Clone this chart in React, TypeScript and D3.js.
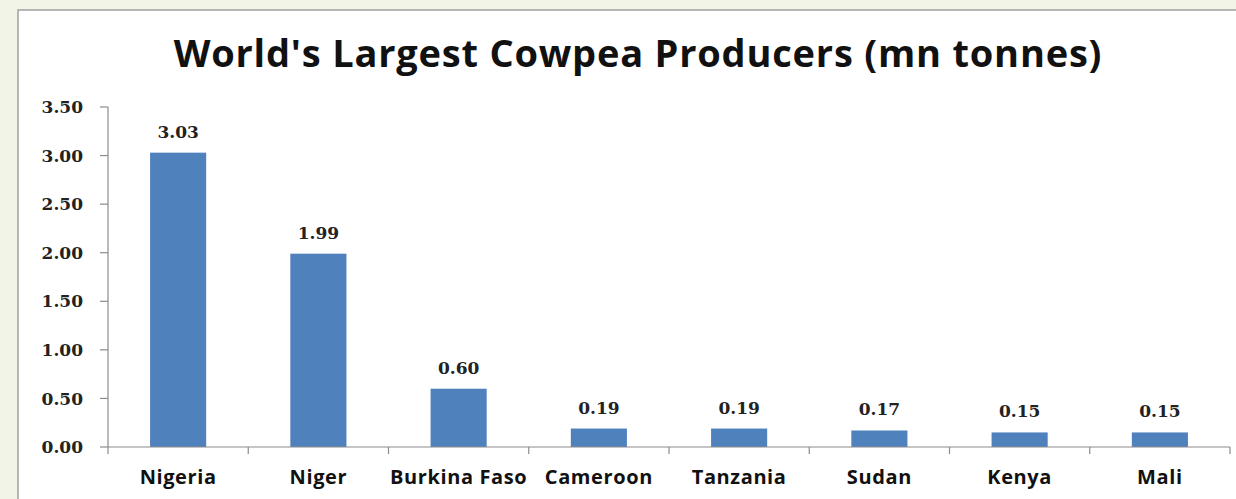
import React from "react";
import * as d3 from "d3";

const categories = ["Nigeria", "Niger", "Burkina Faso", "Cameroon", "Tanzania", "Sudan", "Kenya", "Mali"];
const values = [3.03, 1.99, 0.6, 0.19, 0.19, 0.17, 0.15, 0.15];
const yTicks = [0, 0.5, 1.0, 1.5, 2.0, 2.5, 3.0, 3.5];
const title = "World's Largest Cowpea Producers (mn tonnes)";

const W = 1236;
const H = 499;

export default function App() {
  const x = d3.scaleBand<string>().domain(categories).range([108, 1230]).padding(0);
  const y = d3.scaleLinear().domain([0, 3.5]).range([447, 107]);
  const barW = x.bandwidth() * 0.4;
  const axisColor = "#8c8c8c";
  const boundaries = d3.range(categories.length + 1).map((i) => 108 + i * x.step());
  const serif = "'DejaVu Serif', serif";
  const sans = "'Open Sans', sans-serif";

  return (
    <svg width={W} height={H} style={{ position: "fixed", left: 0, top: 0, display: "block" }}>
      <rect x={0} y={0} width={W} height={H} fill="#f1f4e6" />
      <rect x={18} y={10} width={W + 40} height={H + 40} fill="#ffffff" stroke="#a0a0a0" strokeWidth={1.5} />
      <text x={638} y={67} textAnchor="middle" fontFamily={sans} fontWeight={700} fontSize={38} letterSpacing={0.8} fill="#111">
        {title}
      </text>
      {/* y axis */}
      <line x1={108} x2={108} y1={y(3.5)} y2={y(0)} stroke={axisColor} strokeWidth={1.2} />
      {yTicks.map((t) => (
        <g key={t}>
          <line x1={100} x2={108} y1={y(t)} y2={y(t)} stroke={axisColor} strokeWidth={1.2} />
          <text x={83} y={y(t)} dy="0.36em" textAnchor="end" fontFamily={serif} fontWeight={700} fontSize={17} fill="#222">
            {d3.format(".2f")(t)}
          </text>
        </g>
      ))}
      {/* bars */}
      {categories.map((c, i) => {
        const cx = (x(c) as number) + x.bandwidth() / 2;
        return (
          <g key={c}>
            <rect x={cx - barW / 2} y={y(values[i])} width={barW} height={y(0) - y(values[i])} fill="#4f81bd" />
            <text x={cx} y={y(values[i]) - 15} textAnchor="middle" fontFamily={serif} fontWeight={700} fontSize={17} fill="#222">
              {d3.format(".2f")(values[i])}
            </text>
            <text x={cx} y={484} textAnchor="middle" fontFamily={sans} fontWeight={700} fontSize={20} letterSpacing={0.6} fill="#111">
              {c}
            </text>
          </g>
        );
      })}
      {/* x axis */}
      <line x1={108} x2={1230} y1={y(0)} y2={y(0)} stroke={axisColor} strokeWidth={1.2} />
      {boundaries.map((b, i) => (
        <line key={i} x1={b} x2={b} y1={y(0)} y2={y(0) + 7} stroke={axisColor} strokeWidth={1.2} />
      ))}
    </svg>
  );
}
